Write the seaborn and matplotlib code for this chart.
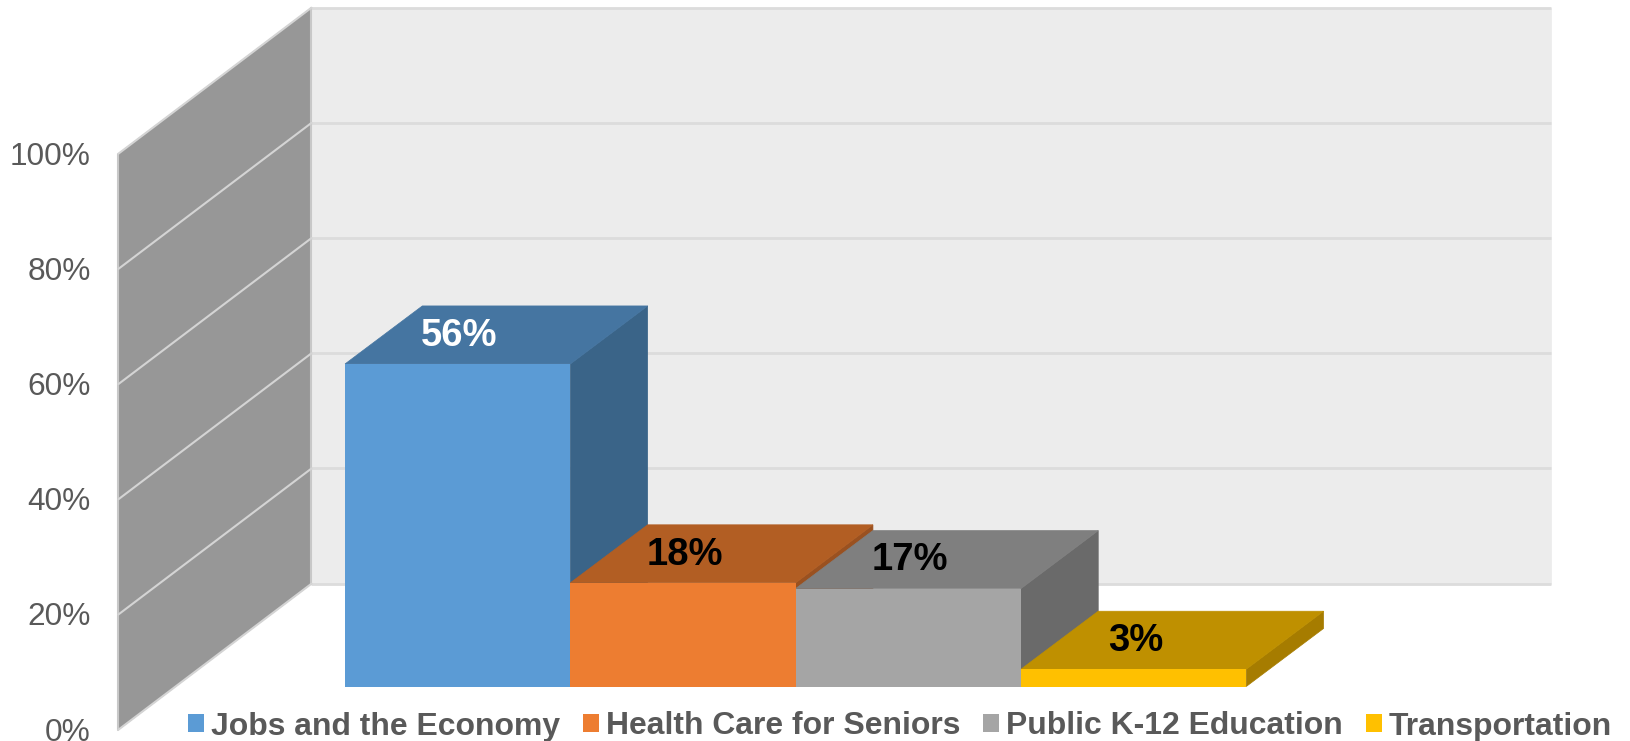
import numpy as np
import pandas as pd
import seaborn as sns
from matplotlib import pyplot as plt
from matplotlib.patches import Polygon

categories = ['Jobs and the Economy', 'Health Care for Seniors', 'Public K-12 Education', 'Transportation']
values = [56, 18, 17, 3]
value_labels = ['56%', '18%', '17%', '3%']
label_colors = ['white', 'black', 'black', 'black']
front_colors = ['#5B9BD5', '#ED7D31', '#A5A5A5', '#FFC000']
top_colors = ['#4575A1', '#B25E23', '#7F7F7F', '#BF9000']
side_colors = ['#3A6488', '#9A5120', '#6A6A6A', '#A67C00']
y_ticks = [0, 20, 40, 60, 80, 100]

# pixel scale of the picture, one bar is one x unit and one percent one y unit
W, H = 1630, 741
BAR_PX = 225.3
PCT_PX = 5.76
X0_PX = 457.7
Y0_PX = 686.5

# 3d look, offsets in data units
BAR_DX, BAR_DY = 0.343, 10.07
WALL_X = -1.506
WALL_SHIFT = -7.5
WALL_DX, WALL_DY = 0.857, 25.35
BACK_RIGHT = 4.852


def add_poly(ax, pts, color, z):
    ax.add_patch(Polygon(pts, closed=True, facecolor=color, edgecolor=color, linewidth=0.5, zorder=z))


if __name__ == '__main__':

    sns.set_theme(style='white')
    plt.rcParams['font.family'] = ['Liberation Sans', 'DejaVu Sans']

    df = pd.DataFrame({'category': categories, 'value': values})

    fig = plt.figure(figsize=(W / 100, H / 100), dpi=100)
    ax = fig.add_axes([0, 0, 1, 1])

    palette = dict(zip(categories, front_colors))
    sns.barplot(data=df, x='category', y='value', hue='category', order=categories, hue_order=categories,
                palette=palette, width=1, gap=0, dodge=False, saturation=1, linewidth=0, legend=True, ax=ax)

    ax.set_xlim(-X0_PX / BAR_PX, (W - X0_PX) / BAR_PX)
    ax.set_ylim(-(H - Y0_PX) / PCT_PX, Y0_PX / PCT_PX)
    ax.axis('off')

    # walls
    low, high = y_ticks[0] + WALL_SHIFT, y_ticks[-1] + WALL_SHIFT
    back_x = WALL_X + WALL_DX
    add_poly(ax, [(back_x, low + WALL_DY), (BACK_RIGHT, low + WALL_DY),
                  (BACK_RIGHT, high + WALL_DY), (back_x, high + WALL_DY)], '#ECECEC', 0.1)
    add_poly(ax, [(WALL_X, low), (back_x, low + WALL_DY), (back_x, high + WALL_DY), (WALL_X, high)], '#979797', 0.2)
    ax.plot([WALL_X, WALL_X], [low, high], color='#C8C8C8', lw=1.5, zorder=0.4)
    ax.plot([back_x, back_x], [low + WALL_DY, high + WALL_DY], color='#C8C8C8', lw=1.5, zorder=0.4)

    for tick in y_ticks:
        y = tick + WALL_SHIFT
        ax.plot([back_x, BACK_RIGHT], [y + WALL_DY, y + WALL_DY], color='#DCDCDC', lw=2, zorder=0.3,
                solid_capstyle='butt')
        ax.plot([WALL_X, back_x], [y, y + WALL_DY], color='#D4D4D4', lw=1.5, zorder=0.4)
        ax.text(WALL_X - 0.123, y + 0.1, str(tick) + '%', ha='right', va='center_baseline', fontsize=22.8,
                color='#595959')

    # sides and tops of the bars, left to right so the next bar covers the one before
    for i, container in enumerate(ax.containers):
        bar = container[0]
        x1 = bar.get_x()
        x2 = x1 + bar.get_width()
        h = bar.get_height()
        z = 0.5 + i * 0.01
        add_poly(ax, [(x2, 0), (x2 + BAR_DX, BAR_DY), (x2 + BAR_DX, h + BAR_DY), (x2, h)], side_colors[i], z)
        add_poly(ax, [(x1, h), (x1 + BAR_DX, h + BAR_DY), (x2 + BAR_DX, h + BAR_DY), (x2, h)], top_colors[i],
                 z + 0.005)
        ax.text(x1 + bar.get_width() / 2 + 0.008, h + 5.6, value_labels[i], ha='center', va='center_baseline',
                fontsize=27.5, fontweight='bold', color=label_colors[i], zorder=3)

    sns.move_legend(ax, loc='center left', bbox_to_anchor=(188 / W, 1 - 726.5 / H), bbox_transform=fig.transFigure,
                    ncol=4, title=None, frameon=False, borderpad=0, borderaxespad=0, handlelength=0.5,
                    handleheight=0.5, handletextpad=0.22, columnspacing=0.72, fontsize=22.95)
    for text in ax.get_legend().get_texts():
        text.set_fontweight('bold')
        text.set_color('#595959')

    fig.savefig('out.png', dpi=100, facecolor='white')
